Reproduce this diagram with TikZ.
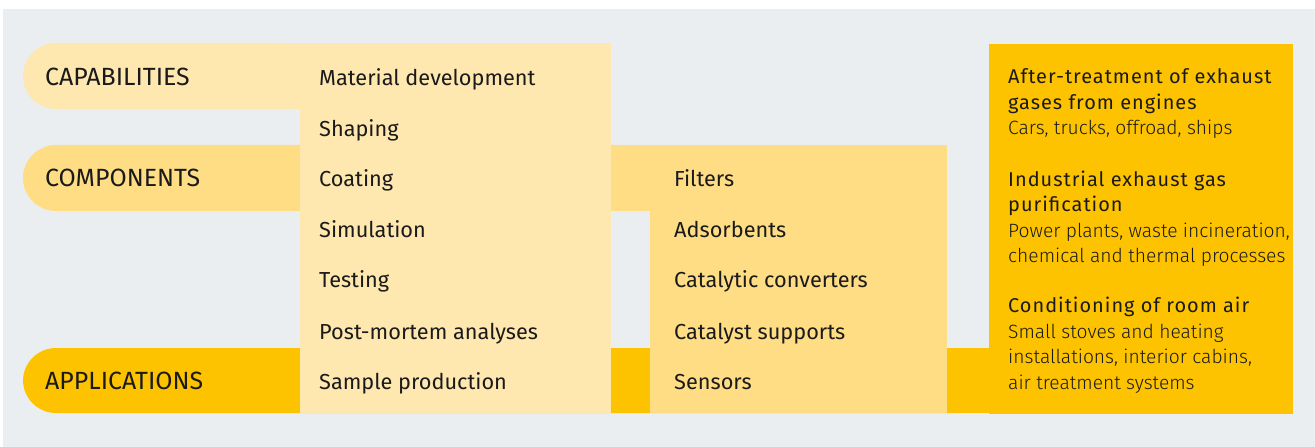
\documentclass[tikz,border=0pt]{standalone}
\usepackage{fontspec}
\setmainfont{Fira Sans}
\newfontfamily\lightfont{Fira Sans Light}
\newfontfamily\headfont{Fira Sans}[LetterSpace=5]
\definecolor{bggray}{HTML}{EAEEF1}
\definecolor{capc}{HTML}{FEE8B0}
\definecolor{compc}{HTML}{FFDD85}
\definecolor{appc}{HTML}{FDC300}
\definecolor{txt}{HTML}{1A1A1A}
\begin{document}
\begin{tikzpicture}[x=1bp,y=-1bp,
  pillend/.style={rounded corners=33bp},
  label/.style={anchor=base west, inner sep=0pt, text=txt, font=\fontsize{25}{28}\selectfont},
  item/.style={anchor=base west, inner sep=0pt, text=txt, font=\fontsize{21.8}{24}\selectfont},
  head/.style={anchor=base west, inner sep=0pt, text=txt, font=\fontsize{20}{22}\headfont},
  desc/.style={anchor=base west, inner sep=0pt, text=txt, font=\fontsize{19.3}{22}\lightfont}]
\useasboundingbox (0,0) rectangle (1315,447);
\fill[bggray] (3,9) rectangle (1315,447);
% bands (rounded left end)
\fill[capc, pillend] (23,43) rectangle (310,109);
\fill[capc] (100,43) rectangle (310,109);
\fill[compc, pillend] (23,145) rectangle (651,211);
\fill[compc] (100,145) rectangle (651,211);
\fill[appc, pillend] (23,348) rectangle (990,413);
\fill[appc] (100,348) rectangle (990,413);
% panels
\fill[capc] (300,43) rectangle (611,413);
\fill[compc] (650,145) rectangle (947,413);
\fill[appc] (989,44) rectangle (1293,414);
% labels
\node[label] (lcap) at (45,86) {CAPABILITIES};
\node[label] (lcomp) at (45,186.5) {COMPONENTS};
\node[label] (lapp) at (45,389) {APPLICATIONS};
% column 1
\node[item] (a1) at (319,86) {Material development};
\node[item] (a2) at (319,136.5) {Shaping};
\node[item] (a3) at (319,187) {Coating};
\node[item] (a4) at (319,237.5) {Simulation};
\node[item] (a5) at (319,288) {Testing};
\node[item] (a6) at (319,339) {Post-mortem analyses};
\node[item] (a7) at (319,389) {Sample production};
% column 2
\node[item] (b1) at (674,187) {Filters};
\node[item] (b2) at (674,237.5) {Adsorbents};
\node[item] (b3) at (674,288) {Catalytic converters};
\node[item] (b4) at (674,339) {Catalyst supports};
\node[item] (b5) at (674,389) {Sensors};
% column 3
\node[head] (c1) at (1008,84) {After-treatment of exhaust};
\node[head] (c2) at (1008,109.5) {gases from engines};
\node[desc] (c3) at (1008,135) {Cars, trucks, offroad, ships};
\node[head] (c4) at (1008,186.5) {Industrial exhaust gas};
\node[head] (c5) at (1008,212) {purification};
\node[desc] (c6) at (1008,237.5) {Power plants, waste incineration,};
\node[desc] (c7) at (1008,263) {chemical and thermal processes};
\node[head] (c8) at (1008,313) {Conditioning of room air};
\node[desc] (c9) at (1008,338) {Small stoves and heating};
\node[desc] (c10) at (1008,363.5) {installations, interior cabins,};
\node[desc] (c11) at (1008,389) {air treatment systems};
\end{tikzpicture}
\end{document}
